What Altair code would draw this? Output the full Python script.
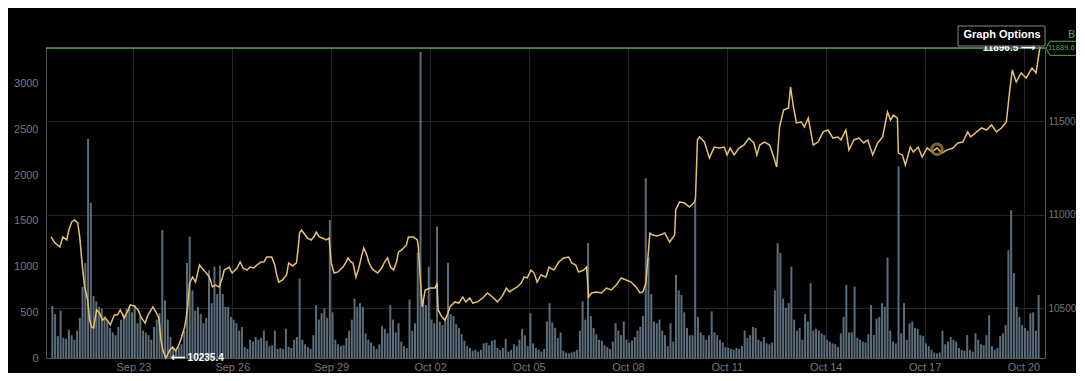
import altair as alt
import pandas as pd

# ---------------- data ----------------
START = "2020-09-20 12:00"
BAR_HOURS = 2

# 2-hour volume bars (left axis)
volume = [
    570, 480, 240, 520, 220, 210, 310, 250, 200, 300, 440, 780,
    1040, 2400, 1700, 680, 620, 560, 540, 460, 400, 330, 280, 250,
    340, 420, 480, 540, 560, 500, 580, 380, 460, 300, 280, 250,
    200, 340, 420, 490, 1400, 630, 420, 230, 120, 90, 120, 150,
    300, 1040, 1330, 740, 520, 560, 480, 380, 440, 960, 600, 1000,
    700, 1010, 700, 560, 560, 450, 420, 380, 300, 340, 120, 100,
    200, 180, 230, 200, 220, 300, 190, 130, 140, 300, 100, 110,
    100, 320, 120, 110, 200, 230, 870, 200, 150, 120, 100, 250,
    580, 420, 490, 540, 440, 1510, 500, 200, 150, 130, 140, 220,
    300, 420, 650, 560, 600, 560, 270, 200, 170, 130, 100, 150,
    350, 320, 270, 580, 420, 280, 380, 180, 130, 110, 640, 300,
    380, 1150, 3350, 620, 580, 1000, 420, 380, 1440, 400, 360, 420,
    1040, 480, 460, 370, 330, 260, 190, 130, 110, 80, 90, 70,
    90, 160, 170, 140, 190, 200, 110, 90, 110, 210, 70, 90,
    150, 130, 200, 320, 250, 130, 490, 160, 110, 90, 70, 100,
    400, 600, 390, 330, 220, 280, 80, 60, 50, 60, 70, 90,
    300, 620, 420, 1260, 460, 330, 260, 200, 190, 140, 120, 100,
    180, 380, 300, 250, 400, 200, 170, 190, 230, 300, 340, 460,
    1967, 1100, 700, 400, 380, 420, 300, 250, 130, 380, 180, 910,
    740, 690, 500, 330, 250, 250, 1730, 450, 280, 250, 200, 250,
    510, 280, 250, 200, 170, 120, 110, 100, 90, 110, 100, 130,
    300, 220, 250, 340, 330, 200, 180, 230, 160, 150, 170, 740,
    1256, 1150, 650, 550, 600, 1000, 420, 300, 330, 200, 480, 400,
    820, 300, 320, 300, 270, 250, 200, 180, 160, 150, 120, 270,
    450, 800, 280, 280, 780, 220, 200, 180, 170, 260, 580, 250,
    430, 450, 600, 560, 1100, 300, 180, 160, 2100, 270, 600, 200,
    380, 400, 330, 320, 250, 240, 160, 130, 90, 60, 50, 60,
    300, 150, 180, 230, 200, 180, 110, 90, 80, 250, 90, 70,
    270, 200, 150, 140, 250, 470, 130, 90, 110, 240, 270, 360,
    1180, 1620, 930, 560, 450, 360, 330, 300, 490, 500, 300, 690,
]

# price line (right axis): hours after START and price
price_hours = [
    0, 2.9, 6.5, 8.6, 11.5, 13.0, 15.1, 17.3, 19.5, 20.9, 23.1, 24.5, 26.7, 28.1, 29.5,
    31.0, 33.2, 35.3, 37.5, 39.6, 41.8, 43.2, 46.1, 48.3, 50.4, 53.3, 56.2, 57.7, 60.5, 63.4,
    65.6, 68.5, 70.6, 74.2, 76.4, 78.6, 80.0, 81.4, 83.6, 86.5, 88.6, 90.8, 93.0, 94.4, 97.3,
    98.7, 99.5, 100.9, 103.1, 105.2, 108.1, 111.0, 113.1, 115.3, 117.5, 119.6, 122.5, 124.7, 126.1, 129.7,
    131.9, 134.1, 135.5, 137.7, 139.8, 142.7,
    144.9, 147.7, 149.9, 152.8, 155.0, 157.1, 160.7, 162.9, 164.3, 165.8, 168.6, 171.5, 173.0, 175.9, 178.7,
    180.2, 180.9, 182.3, 184.5, 186.7, 189.5, 191.7, 193.1, 195.3, 197.5, 200.4, 202.5, 204.0, 206.1, 209.0,
    210.4, 212.6, 214.8, 216.2, 218.4, 219.8, 222.0, 224.1, 226.3, 227.7, 229.9, 231.3, 233.5, 234.9, 237.8,
    240.7, 242.9, 245.0, 247.2, 249.4, 251.5, 253.0, 255.1, 256.6, 258.7, 260.2, 263.8, 266.7, 267.4, 268.8,
    270.3, 272.4, 276.0, 279.6, 281.1, 281.8, 284.7, 286.8,
    289.0, 290.4, 294.0, 296.9, 299.8, 302.0, 304.9, 307.0, 310.6, 314.2, 317.8, 321.4, 325.0, 328.6, 331.5,
    333.7, 335.9, 339.5, 342.3, 344.5, 346.7, 349.5, 351.7, 353.9, 356.7, 360.4, 362.5, 366.1, 369.7, 373.3,
    376.9, 379.1, 382.0, 384.1, 387.7, 389.9, 391.4, 393.5, 397.1, 400.7, 404.3, 407.9, 411.5, 415.1, 418.7,
    422.3, 425.9, 428.8, 431.0,
    433.1, 436.0, 438.2, 441.1, 443.2, 446.8, 450.4, 454.0, 454.8, 457.6, 461.2, 464.8, 468.5, 469.2, 470.6,
    472.1, 475.7, 479.3, 482.9, 486.5, 490.1, 492.2, 494.4, 497.3, 500.9, 504.5, 508.1, 511.7, 513.9, 516.0,
    519.6, 523.2, 526.1, 528.3, 530.4, 533.3, 536.9, 538.4, 540.5, 542.7, 546.3, 548.5, 551.3, 554.9, 558.5,
    562.1, 565.7, 569.3, 572.9, 575.1,
    578.7, 580.9, 584.5, 588.1, 591.7, 594.6, 598.2, 601.8, 605.4, 609.0, 611.2, 613.3, 616.2, 616.9, 619.8,
    622.0, 625.6, 627.8, 631.3, 634.2, 637.8, 641.4, 645.0, 648.6, 652.2, 656.6, 660.2, 663.8, 667.4, 669.5,
    673.9, 677.5, 681.1, 684.7, 688.3, 691.9, 695.5, 697.6, 699.8, 702.7, 706.3, 709.9, 712.1, 714.2, 717.1,
    719.3, 720.0,
]
price_values = [
    10882, 10850, 10828, 10882, 10866, 10919, 10962, 10973, 10956, 10882, 10705, 10615, 10545, 10438, 10401,
    10396, 10492, 10476, 10438, 10449, 10428, 10412, 10465, 10465, 10492, 10449, 10492, 10519, 10513, 10492,
    10454, 10422, 10465, 10508, 10481, 10449, 10332, 10278, 10235.4, 10278, 10294, 10273, 10305, 10332, 10401,
    10465, 10508, 10636, 10668, 10641, 10732, 10705, 10689, 10668, 10615, 10625, 10615, 10663, 10705, 10721,
    10689, 10705, 10716, 10748, 10716, 10705,
    10721, 10716, 10732, 10748, 10748, 10775, 10775, 10732, 10679, 10641, 10652, 10679, 10743, 10727, 10743,
    10839, 10903, 10919, 10898, 10876, 10866, 10887, 10908, 10882, 10876, 10866, 10876, 10743, 10689, 10695,
    10705, 10721, 10748, 10770, 10748, 10743, 10668, 10716, 10786, 10823, 10786, 10748, 10716, 10705, 10689,
    10716, 10748, 10770, 10721, 10705, 10748, 10802, 10812, 10823, 10839, 10882, 10882, 10866, 10828, 10668,
    10508, 10599, 10609, 10609, 10636, 10492, 10454, 10438,
    10476, 10508, 10535, 10529, 10561, 10535, 10556, 10529, 10535, 10556, 10583, 10561, 10535, 10567, 10609,
    10588, 10599, 10615, 10636, 10668, 10663, 10705, 10689, 10641, 10679, 10668, 10721, 10705, 10748, 10770,
    10775, 10743, 10732, 10695, 10705, 10721, 10561, 10583, 10588, 10583, 10609, 10599, 10625, 10663, 10652,
    10641, 10615, 10583, 10590,
    10636, 10903, 10892, 10887, 10892, 10903, 10855, 10892, 11026, 11069, 11063, 11042, 11069, 11090, 11400,
    11416, 11389, 11304, 11362, 11357, 11362, 11320, 11357, 11320, 11357, 11373, 11410, 11384, 11320, 11373,
    11389, 11373, 11309, 11256, 11469, 11560, 11571, 11683, 11576, 11491, 11496, 11469, 11517, 11373, 11389,
    11443, 11453, 11410, 11416, 11400,
    11453, 11346, 11400, 11410, 11384, 11400, 11320, 11384, 11416, 11549, 11507, 11533, 11517, 11330, 11320,
    11266, 11362, 11336, 11362, 11309, 11357, 11336, 11357, 11330, 11346, 11357, 11384, 11389, 11443, 11416,
    11443, 11464, 11453, 11480, 11443, 11464, 11496, 11640, 11774, 11710, 11758, 11731, 11758, 11784, 11758,
    11864, 11896.5,
]

x_tick_dates = [(2020, 9, 23), (2020, 9, 26), (2020, 9, 29), (2020, 10, 2), (2020, 10, 5),
                (2020, 10, 8), (2020, 10, 11), (2020, 10, 14), (2020, 10, 17), (2020, 10, 20)]
left_ticks = [0, 500, 1000, 1500, 2000, 2500, 3000]
right_ticks = [10500, 11000, 11500]
VOL_MAX = 3405
LAST_PRICE = 11889.6
HOVER_HOUR = 645
HOVER_PRICE = 11350

# ---------------- frames ----------------
start = pd.Timestamp(START)
vol_df = pd.DataFrame({
    "t": [start + pd.Timedelta(hours=BAR_HOURS * i + BAR_HOURS / 2) for i in range(len(volume))],
    "v": volume,
})
price_df = pd.DataFrame({
    "t": [start + pd.Timedelta(hours=h) for h in price_hours],
    "p": price_values,
})
pmin_i = price_df["p"].idxmin()
pmax_i = price_df["p"].idxmax()
PRICE_MIN = float(price_df["p"].min())
PRICE_MAX = float(price_df["p"].max())
min_df = price_df.loc[[pmin_i]].assign(label=lambda d: "\u27f5 " + d["p"].map(lambda v: f"{v:.1f}"))
max_df = price_df.loc[[pmax_i]].assign(label=lambda d: d["p"].map(lambda v: f"{v:.1f}") + " \u27f6")
hover_df = pd.DataFrame({"t": [start + pd.Timedelta(hours=HOVER_HOUR)], "p": [HOVER_PRICE]})
one = pd.DataFrame({"k": [0]})

W, H = 999, 311
FONT = "Liberation Sans"
GREEN = "#4caf50"

x_domain = [alt.DateTime(year=2020, month=9, date=20, hours=12),
            alt.DateTime(year=2020, month=10, date=20, hours=12)]
x_axis = alt.Axis(
    values=[alt.DateTime(year=y, month=m, date=d) for y, m, d in x_tick_dates],
    format="%b %d", grid=True, gridColor="#262626", ticks=False, domain=False,
    labelColor="#777", labelFontSize=11, labelFont=FONT, labelPadding=3, title=None,
)
x_enc = alt.X("t:T", scale=alt.Scale(domain=x_domain), axis=x_axis)

# ---------------- volume layer ----------------
bars = alt.Chart(vol_df).mark_bar(width=2, color="#5b6c7a").encode(
    x=x_enc,
    y=alt.Y("v:Q", scale=alt.Scale(domain=[0, VOL_MAX], nice=False),
            axis=alt.Axis(orient="left", values=left_ticks, format="d", grid=False, ticks=False,
                          domain=False, labelColor="#777", labelFontSize=11, labelFont=FONT,
                          labelPadding=8, title=None)),
)

# ---------------- price layers ----------------
py = alt.Scale(domain=[PRICE_MIN, PRICE_MAX], nice=False, zero=False)
price_axis = alt.Axis(orient="right", values=right_ticks, format="d", grid=True, gridColor="#262626",
                      ticks=False, domain=False, labelColor="#777", labelFontSize=10, labelFont=FONT,
                      labelPadding=3, title=None)

line = alt.Chart(price_df).mark_line(color="#e6c36a", strokeWidth=1.5).encode(
    x=x_enc, y=alt.Y("p:Q", scale=py, axis=price_axis)
)
last_rule = alt.Chart(one).mark_rule(color=GREEN, strokeWidth=1).encode(
    x=alt.value(0), x2=alt.value(W), y=alt.Y(datum=LAST_PRICE, scale=py)
)
min_text = alt.Chart(min_df).mark_text(
    align="left", baseline="middle", dx=5, color="white", fontWeight="bold", fontSize=10, font=FONT
).encode(x=x_enc, y=alt.Y("p:Q", scale=py), text="label:N")
max_text = alt.Chart(max_df).mark_text(
    align="right", baseline="middle", dx=-5, dy=1, color="white", fontWeight="bold", fontSize=10, font=FONT
).encode(x=x_enc, y=alt.Y("p:Q", scale=py), text="label:N")
hover = alt.Chart(hover_df).mark_point(
    shape="circle", filled=False, size=110, strokeWidth=3, color="#8f7030", opacity=0.9
).encode(x=x_enc, y=alt.Y("p:Q", scale=py))

tag_shape = "M -1 0 L -0.82 -0.32 L 1 -0.32 L 1 0.32 L -0.82 0.32 Z"
tag = alt.Chart(one).mark_point(
    shape=tag_shape, filled=False, size=1936, color=GREEN, strokeWidth=1, opacity=1
).encode(x=alt.value(W + 23), y=alt.Y(datum=LAST_PRICE, scale=py))
tag_text = alt.Chart(one).mark_text(
    align="left", baseline="middle", color=GREEN, fontSize=7.5, font=FONT
).encode(x=alt.value(W + 3), y=alt.Y(datum=LAST_PRICE, scale=py), text=alt.value(f"{LAST_PRICE:.1f}"))

opt_box = alt.Chart(one).mark_rect(fill="black", stroke="#888", strokeWidth=1).encode(
    x=alt.value(912), x2=alt.value(W), y=alt.value(-21), y2=alt.value(-1)
)
opt_text = alt.Chart(one).mark_text(
    align="center", baseline="middle", color="white", fontWeight="bold", fontSize=11, font=FONT
).encode(x=alt.value(956), y=alt.value(-12), text=alt.value("Graph Options"))
b_text = alt.Chart(one).mark_text(
    align="left", baseline="middle", color=GREEN, fontSize=11, font=FONT
).encode(x=alt.value(W + 23), y=alt.value(-12), text=alt.value("B"))

price_layer = alt.layer(line, last_rule, hover, min_text, max_text, tag, tag_text)
deco = alt.layer(opt_box, opt_text, b_text)

chart = alt.layer(bars, price_layer, deco).resolve_scale(y="independent").properties(
    width=W, height=H,
    autosize=alt.AutoSizeParams(type="none"),
    padding={"left": 38, "top": 39, "right": 31, "bottom": 15},
).configure(background="#000000").configure_view(stroke="#555555", strokeWidth=1)

chart.save("out.html", embed_options={"renderer": "svg", "actions": False})
